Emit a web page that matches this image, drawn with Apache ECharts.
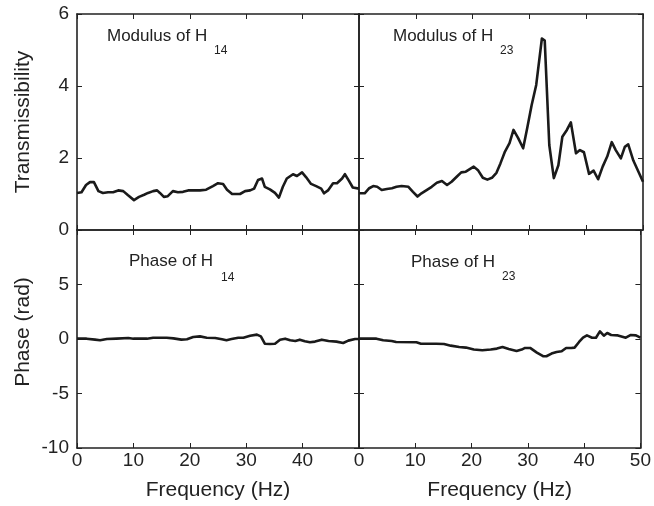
<!DOCTYPE html>
<html>
<head>
<meta charset="utf-8">
<script src="https://cdn.jsdelivr.net/npm/echarts@6/dist/echarts.min.js"></script>
<style>
html,body{margin:0;padding:0;background:#fff;}
#chart{width:654px;height:506px;}
</style>
</head>
<body>
<div id="chart"></div>
<script>
// ---- data (frequency in Hz) ----
var freqModH14 = [0,0.8,1.6,2.3,3.0,3.8,4.6,5.5,6.4,7.3,8.2,9.0,10.1,11.0,11.9,12.6,13.5,14.2,14.7,15.4,16.1,17.0,17.9,18.8,19.7,20.6,21.8,22.9,24.1,25.0,25.9,26.6,27.5,28.4,28.9,29.8,30.7,31.4,32.1,32.8,33.3,34.2,35.1,35.8,36.5,37.2,38.3,39.0,39.9,40.6,41.5,42.4,43.3,43.8,44.5,45.4,46.1,47.0,47.5,48.2,48.9,50];
var modH14 = [1.03,1.05,1.25,1.33,1.33,1.08,1.03,1.05,1.05,1.1,1.08,0.97,0.83,0.92,0.98,1.03,1.08,1.1,1.03,0.92,0.94,1.08,1.05,1.06,1.1,1.1,1.1,1.12,1.22,1.3,1.28,1.12,1.0,1.0,1.0,1.08,1.1,1.15,1.39,1.43,1.2,1.13,1.03,0.9,1.2,1.43,1.55,1.5,1.6,1.47,1.28,1.22,1.15,1.02,1.1,1.3,1.3,1.43,1.55,1.37,1.18,1.15];

var freqModH23 = [0,1.0,1.8,2.5,3.2,4.0,4.9,5.8,6.6,7.5,8.7,9.5,10.3,11.0,11.9,12.8,13.7,14.6,15.5,16.3,17.2,18.0,18.8,19.5,20.2,21.0,21.8,22.6,23.4,24.2,24.9,25.7,26.5,27.2,28.0,28.9,29.6,30.4,31.2,32.2,32.7,33.5,34.3,35.1,35.8,36.6,37.3,38.2,38.9,39.6,40.5,41.3,42.1,42.9,43.7,44.5,45.2,46.1,46.8,47.4,48.3,49.2,50];
var modH23 = [1.02,1.02,1.16,1.22,1.2,1.11,1.14,1.16,1.2,1.22,1.2,1.06,0.93,1.02,1.11,1.2,1.31,1.36,1.25,1.34,1.48,1.6,1.62,1.69,1.76,1.65,1.45,1.40,1.45,1.59,1.85,2.18,2.41,2.78,2.56,2.27,2.82,3.47,4.03,5.32,5.26,2.36,1.44,1.8,2.59,2.78,2.99,2.13,2.22,2.16,1.56,1.65,1.41,1.76,2.04,2.44,2.22,1.99,2.31,2.38,1.93,1.62,1.34];

var freqPhH14 = [0,1.7,3.2,4.1,5.3,7.0,9.1,10,12.4,13.5,15.9,17.1,18.5,19.5,20.6,21.8,23.0,24.5,25.7,26.5,27.4,28.6,29.5,30.7,31.9,32.6,33.3,34.2,35.1,36.0,36.9,37.8,38.7,39.5,40.4,41.3,42.2,43.4,44.6,46.0,47.2,48.1,49.3,50];
var phH14 = [0.03,0.03,-0.06,-0.12,0,0.03,0.09,0.03,0.03,0.12,0.12,0.06,-0.06,-0.03,0.18,0.24,0.12,0.09,-0.03,-0.12,0,0.12,0.12,0.3,0.4,0.24,-0.43,-0.46,-0.43,-0.06,0.03,-0.12,-0.18,-0.06,-0.21,-0.3,-0.24,-0.06,-0.18,-0.24,-0.37,-0.15,0,0];

var freqPhH23 = [0,3.1,4.3,5.8,6.6,10.2,11.0,13.7,15.1,16.3,17.8,19.0,20.4,21.9,23.4,24.5,25.5,26.6,28.0,28.9,29.5,30.4,31.6,32.7,33.3,34.2,35.1,36.0,36.8,37.7,38.3,39.1,39.8,40.5,41.4,42.1,42.8,43.5,44.1,44.8,46.0,47.4,48.3,49.2,50];
var phH23 = [0.03,0.03,-0.12,-0.18,-0.27,-0.3,-0.43,-0.43,-0.46,-0.61,-0.73,-0.79,-0.97,-1.03,-0.97,-0.88,-0.73,-0.91,-1.1,-0.97,-0.82,-0.82,-1.25,-1.58,-1.58,-1.34,-1.19,-1.13,-0.82,-0.82,-0.79,-0.27,0.12,0.33,0.12,0.12,0.7,0.3,0.55,0.37,0.33,0.12,0.37,0.33,0.12];

var xTicks = {min: 0, max: 50, interval: 10};
var modTicks = {min: 0, max: 6, interval: 2};
var phTicks = {min: -10, max: 10, interval: 5};
var xName = 'Frequency (Hz)';
var modName = 'Transmissibility';
var phName = 'Phase (rad)';

// ---- chart ----
var FONT = 'Liberation Sans, Arial, Helvetica, sans-serif';
var INK = '#222';

function pairs(xs, ys) { return xs.map(function (x, i) { return [x, ys[i]]; }); }

function axisBase(gridIndex, position, ticks, showLabels, extra) {
  var a = {
    type: 'value', gridIndex: gridIndex, position: position,
    min: ticks.min, max: ticks.max, interval: ticks.interval,
    axisLine: {show: true, onZero: false, lineStyle: {color: INK, width: 1.6}},
    axisTick: {show: true, inside: true, length: 5, lineStyle: {color: INK, width: 1}},
    splitLine: {show: false},
    axisLabel: {show: showLabels, color: INK, fontSize: 19, fontFamily: FONT},
    nameTextStyle: {color: INK, fontSize: 21, fontFamily: FONT}
  };
  if (extra) { for (var k in extra) { a[k] = extra[k]; } }
  return a;
}

var grids = [
  {left: 77, top: 14, width: 282, height: 216},
  {left: 359, top: 14, width: 284, height: 216},
  {left: 77, top: 230, width: 282, height: 218},
  {left: 359, top: 230, width: 284, height: 218}
];

var xAxes = [], yAxes = [];
// grid 0: top-left
xAxes.push(axisBase(0, 'bottom', xTicks, false));
xAxes.push(axisBase(0, 'top', xTicks, false));
yAxes.push(axisBase(0, 'left', modTicks, true, {name: modName, nameLocation: 'middle', nameGap: 43}));
yAxes.push(axisBase(0, 'right', modTicks, false));
// grid 1: top-right
xAxes.push(axisBase(1, 'bottom', xTicks, false));
xAxes.push(axisBase(1, 'top', xTicks, false));
yAxes.push(axisBase(1, 'left', modTicks, false));
yAxes.push(axisBase(1, 'right', modTicks, false));
// grid 2: bottom-left
var bl = axisBase(2, 'bottom', xTicks, true, {name: xName, nameLocation: 'middle', nameGap: 32});
bl.axisLabel.showMaxLabel = false; bl.axisLabel.margin = 3;
xAxes.push(bl);
xAxes.push(axisBase(2, 'top', xTicks, false));
var bly = axisBase(2, 'left', phTicks, true, {name: phName, nameLocation: 'middle', nameGap: 43});
bly.axisLabel.showMaxLabel = false;
bly.nameTextStyle.padding = [0, 0, 0, 14];
yAxes.push(bly);
yAxes.push(axisBase(2, 'right', phTicks, false));
// grid 3: bottom-right
var br = axisBase(3, 'bottom', xTicks, true, {name: xName, nameLocation: 'middle', nameGap: 32});
br.axisLabel.margin = 3;
xAxes.push(br);
xAxes.push(axisBase(3, 'top', xTicks, false));
yAxes.push(axisBase(3, 'left', phTicks, false));
yAxes.push(axisBase(3, 'right', phTicks, false));

function lineSeries(g, data) {
  return {
    type: 'line', xAxisIndex: 2 * g, yAxisIndex: 2 * g, data: data,
    symbol: 'none', smooth: false, animation: false,
    lineStyle: {color: '#1a1a1a', width: 2.6, join: 'round'}
  };
}

function txt(x, y, s, size) {
  return {type: 'text', x: x, y: y, style: {text: s, font: size + 'px ' + FONT, fill: INK, textVerticalAlign: 'top'}};
}

var option = {
  backgroundColor: '#fff',
  animation: false,
  grid: grids,
  xAxis: xAxes,
  yAxis: yAxes,
  series: [
    lineSeries(0, pairs(freqModH14, modH14)),
    lineSeries(1, pairs(freqModH23, modH23)),
    lineSeries(2, pairs(freqPhH14, phH14)),
    lineSeries(3, pairs(freqPhH23, phH23))
  ],
  graphic: [
    txt(107, 28, 'Modulus of H', 17),
    txt(214, 45, '14', 12),
    txt(393, 28, 'Modulus of H', 17),
    txt(500, 45, '23', 12),
    txt(129, 253, 'Phase of H', 17),
    txt(221, 272, '14', 12),
    txt(411, 254, 'Phase of H', 17),
    txt(502, 271, '23', 12)
  ]
};

var chart = echarts.init(document.getElementById('chart'), null, {renderer: 'canvas'});
chart.setOption(option);
</script>
</body>
</html>
